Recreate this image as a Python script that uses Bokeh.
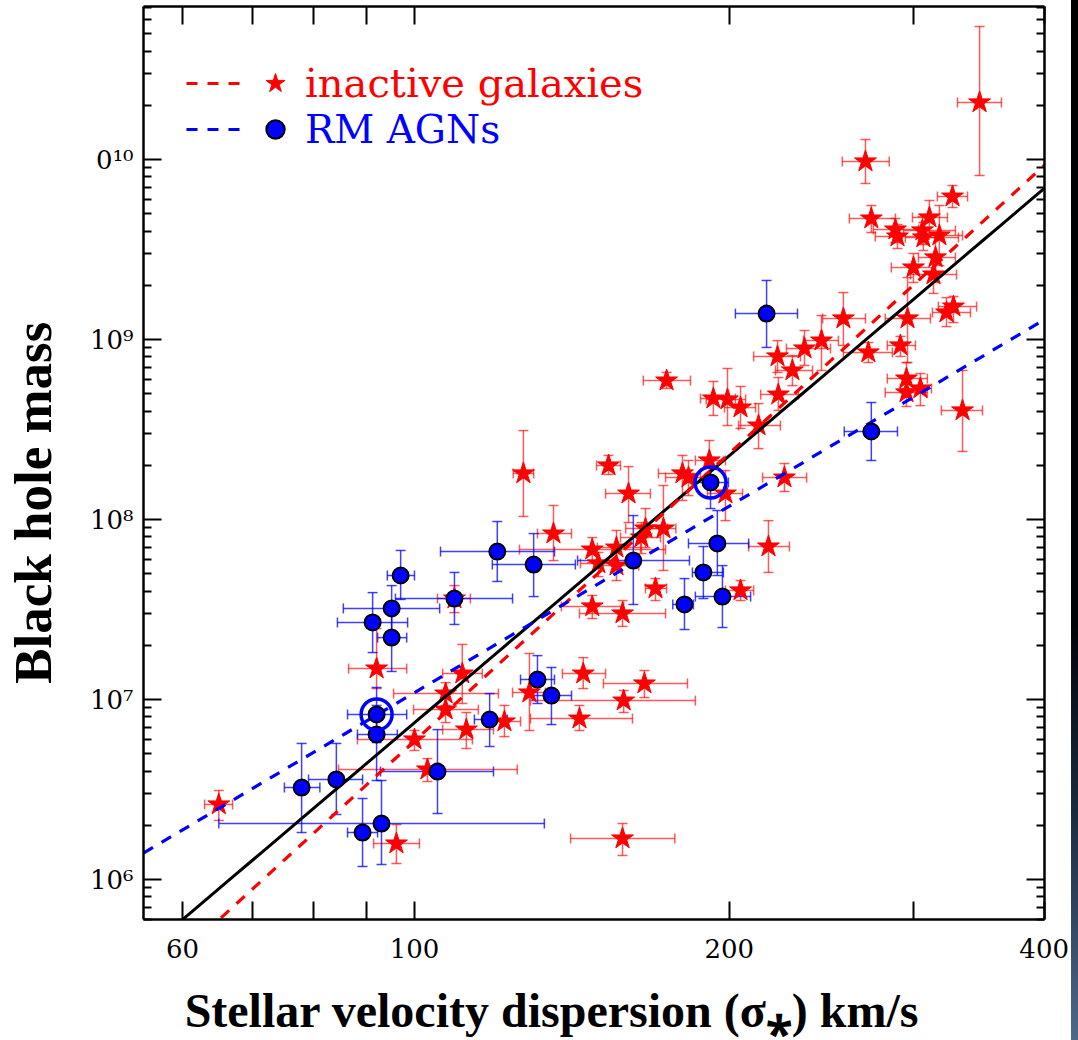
import numpy as np
from bokeh.plotting import figure
from bokeh.models import (ColumnDataSource, Range1d, FixedTicker, LogAxis, Whisker,
                          TeeHead, Legend, LegendItem, Div)
from bokeh.layouts import row
from bokeh.embed import file_html
from bokeh.resources import INLINE

# ---------------- data ----------------
# inactive galaxies (red stars): sigma [km/s] with error range, log10(M_BH) with error range
red_sigma = [347.0, 269.9, 326.9, 273.4, 288.3, 289.6, 310.7, 306.0, 306.6, 317.6,
             314.9, 300.0, 313.5, 322.6, 327.6, 296.1, 291.5, 295.4, 295.4, 304.6,
             334.2, 271.6, 257.1, 245.0, 236.0, 222.4, 229.8, 222.8, 199.2, 193.1,
             205.0, 213.3, 174.2, 225.8, 218.0, 205.0, 153.3, 160.2, 180.4, 182.8,
             191.4, 198.3, 127.1, 135.8, 173.0, 166.3, 164.8, 147.9, 156.0, 149.9,
             156.0, 170.0, 147.9, 158.1, 92.0, 111.1, 107.1, 107.1, 112.1, 100.0,
             102.9, 121.9, 128.8, 145.0, 165.9, 158.5, 143.8, 158.1, 96.1, 65.0,
             109.2]
red_sigma_lo = [330.5, 256.5, 316.2, 260.5, 274.6, 275.8, 299.3, 293.5, 294.7, 303.3,
                303.3, 285.7, 298.0, 312.8, 316.9, 281.9, 283.2, 283.2, 281.9, 291.5,
                319.0, 257.1, 245.6, 235.5, 226.8, 211.0, 221.4, 214.3, 190.1, 187.7,
                197.9, 204.1, 165.5, 215.2, 208.7, 198.3, 149.3, 152.3, 171.1, 173.8,
                185.6, 190.6, 124.3, 131.1, 165.5, 159.2, 157.4, 126.0, 149.6, 144.1,
                150.6, 166.3, 138.2, 143.8, 86.5, 106.4, 95.5, 99.8, 106.4, 88.2,
                84.6, 117.4, 124.1, 138.5, 151.6, 129.1, 129.1, 141.0, 91.4, 63.0,
                105.2]
red_sigma_hi = [364.1, 284.4, 337.9, 288.3, 303.3, 304.6, 323.3, 329.0, 331.2, 334.2,
                329.0, 314.9, 329.8, 340.1, 344.7, 311.4, 301.3, 309.3, 309.3, 312.1,
                349.2, 286.4, 269.9, 254.3, 249.9, 233.9, 240.2, 232.9, 207.3, 202.7,
                211.9, 223.8, 183.6, 237.1, 228.3, 211.0, 157.4, 168.1, 187.7, 189.7,
                198.3, 205.9, 130.0, 141.3, 177.8, 174.6, 171.9, 173.8, 164.5, 156.7,
                163.8, 174.2, 158.5, 173.8, 98.3, 116.1, 120.3, 115.1, 119.0, 113.6,
                125.4, 126.3, 133.4, 152.3, 182.4, 185.6, 161.6, 177.4, 101.1, 67.0,
                113.1]
red_logm = [10.317, 9.989, 9.794, 9.672, 9.611, 9.572, 9.678, 9.606, 9.567, 9.578,
            9.456, 9.400, 9.361, 9.150, 9.183, 9.117, 8.967, 8.783, 8.706, 8.728,
            8.606, 8.928, 9.117, 8.994, 8.950, 8.906, 8.828, 8.694, 8.667, 8.672,
            8.622, 8.522, 8.772, 8.233, 7.850, 7.606, 8.300, 8.144, 8.256, 8.233,
            8.328, 8.144, 8.256, 7.922, 7.950, 7.950, 7.900, 7.833, 7.844, 7.756,
            7.744, 7.617, 7.517, 7.478, 7.172, 7.144, 7.033, 6.944, 6.833, 6.778,
            6.611, 6.878, 7.039, 7.144, 7.089, 6.994, 6.894, 6.228, 6.200, 6.417,
            7.561]
red_logm_lo = [9.911, 9.867, 9.733, 9.594, 9.539, 9.506, 9.567, 9.528, 9.494, 9.411,
               9.317, 9.317, 9.256, 9.072, 9.094, 8.872, 8.906, 8.683, 8.628, 8.633,
               8.378, 8.872, 8.967, 8.828, 8.856, 8.817, 8.744, 8.606, 8.522, 8.578,
               8.506, 8.394, 8.728, 8.156, 7.706, 7.550, 8.250, 7.983, 8.106, 8.133,
               8.217, 7.994, 8.017, 7.772, 7.717, 7.844, 7.811, 7.761, 7.744, 7.683,
               7.661, 7.550, 7.450, 7.406, 7.061, 6.978, 6.967, 6.872, 6.728, 6.717,
               6.544, 6.794, 6.828, 7.061, 7.011, 6.928, 6.828, 6.133, 6.089, 6.328,
               7.483]
red_logm_hi = [10.739, 10.111, 9.856, 9.744, 9.672, 9.639, 9.772, 9.683, 9.650, 9.744,
               9.594, 9.478, 9.467, 9.233, 9.239, 9.344, 9.017, 8.872, 8.783, 8.811,
               8.828, 8.983, 9.261, 9.133, 9.050, 8.994, 8.911, 8.789, 8.839, 8.767,
               8.739, 8.644, 8.817, 8.311, 7.994, 7.661, 8.356, 8.294, 8.356, 8.328,
               8.439, 8.272, 8.494, 8.078, 8.189, 8.061, 7.983, 7.900, 7.939, 7.817,
               7.817, 7.672, 7.578, 7.550, 7.394, 7.306, 7.094, 7.050, 6.928, 6.828,
               6.672, 6.967, 7.256, 7.233, 7.161, 7.050, 6.967, 6.311, 6.306, 6.494,
               7.633]

# RM AGNs (blue circles)
blue_sigma = [217.1, 273.4, 191.9, 194.8, 188.9, 197.0, 181.2, 161.9, 120.0, 130.0,
              97.0, 109.2, 95.1, 91.2, 95.1, 92.0, 92.0, 118.0, 105.2, 131.1,
              135.2, 78.0, 84.2, 89.2, 93.0]
blue_sigma_lo = [202.7, 257.6, 184.8, 182.8, 184.4, 185.6, 176.6, 143.2, 105.9, 118.7,
                 94.2, 95.9, 85.5, 84.4, 92.2, 86.3, 88.2, 114.1, 92.8, 126.3,
                 129.7, 75.1, 79.2, 86.3, 65.0]
blue_sigma_hi = [232.4, 289.6, 199.6, 208.7, 197.4, 209.6, 184.8, 183.2, 136.1, 142.5,
                 100.0, 124.1, 105.7, 98.5, 98.3, 98.3, 96.3, 122.7, 119.0, 136.1,
                 141.3, 81.2, 89.2, 92.2, 133.1]
blue_logm = [9.144, 8.489, 8.206, 7.867, 7.706, 7.572, 7.528, 7.772, 7.822, 7.750,
             7.689, 7.561, 7.506, 7.428, 7.344, 6.917, 6.806, 6.889, 6.600, 7.111,
             7.022, 6.511, 6.556, 6.261, 6.311]
blue_logm_lo = [8.956, 8.328, 8.061, 7.689, 7.561, 7.400, 7.389, 7.528, 7.656, 7.572,
                7.556, 7.417, 7.372, 7.261, 7.156, 6.761, 6.550, 6.739, 6.367, 6.978,
                6.861, 6.261, 6.361, 6.072, 6.083]
blue_logm_hi = [9.328, 8.650, 8.344, 8.050, 7.850, 7.744, 7.672, 8.022, 7.989, 7.922,
                7.828, 7.706, 7.633, 7.594, 7.494, 7.067, 6.967, 7.033, 6.833, 7.244,
                7.178, 6.756, 6.756, 6.450, 6.550]
# AGNs highlighted with an open ring (indices into the blue arrays)
ring_index = [2, 15]

# fitted relations: log M = a + b * log10(sigma / 200)
fit_pivot = 200.0
fit_all = (8.355, 4.93)       # black solid
fit_inactive = (8.368, 5.31)  # red dashed
fit_agn = (8.074, 3.44)       # blue dashed

x_ticks = [60, 70, 80, 90, 100, 200, 300, 400]
x_tick_labels = {60: "60", 70: "", 80: "", 90: "", 100: "100", 200: "200", 300: "", 400: "400"}
y_ticks = [1e6, 1e7, 1e8, 1e9, 1e10]
y_tick_labels = {1e6: "10⁶", 1e7: "10⁷", 1e8: "10⁸", 1e9: "10⁹", 1e10: "0¹⁰"}
y_minor_ticks = [m * 10.0 ** e for e in range(5, 11) for m in range(2, 10)]

x_title = "Stellar velocity dispersion (σ⁎) km/s"
y_title = "Black hole mass"
legend_labels = ["inactive galaxies", "RM AGNs"]

# ---------------- plot ----------------
X0, X1 = 55.07, 400.3
Y0, Y1 = 10 ** 5.778, 10 ** 10.85

p = figure(width=1071, height=1040, x_axis_type="log", y_axis_type="log",
           x_range=Range1d(X0, X1), y_range=Range1d(Y0, Y1),
           output_backend="svg", toolbar_location=None,
           min_border_left=143, min_border_right=27, min_border_top=6, min_border_bottom=121,
           background_fill_color="white", border_fill_color="white")
p.xgrid.visible = False
p.ygrid.visible = False
p.outline_line_color = None

bottom_ax = p.below[0]
left_ax = p.left[0]


def style_axis(ax, ticker, overrides, show_labels, standoff):
    ax.ticker = ticker
    ax.axis_line_color = "black"
    ax.axis_line_width = 2.5
    ax.major_tick_line_color = "black"
    ax.major_tick_line_width = 2
    ax.minor_tick_line_color = "black"
    ax.minor_tick_line_width = 2
    ax.major_tick_in = 18
    ax.major_tick_out = 0
    ax.minor_tick_in = 8
    ax.minor_tick_out = 0
    ax.major_label_overrides = overrides
    ax.axis_label = None
    if show_labels:
        ax.major_label_text_font = "DejaVu Serif"
        ax.major_label_text_font_size = "26px"
        ax.major_label_text_color = "black"
        ax.major_label_standoff = standoff
    else:
        ax.major_label_text_font_size = "0px"
        ax.major_label_standoff = 0


style_axis(bottom_ax, FixedTicker(ticks=x_ticks, minor_ticks=[]), x_tick_labels, True, 19)
style_axis(left_ax, FixedTicker(ticks=y_ticks, minor_ticks=y_minor_ticks), y_tick_labels, True, 10)
top_ax = LogAxis()
right_ax = LogAxis()
style_axis(top_ax, FixedTicker(ticks=x_ticks, minor_ticks=[]), {t: "" for t in x_ticks}, False, 0)
style_axis(right_ax, FixedTicker(ticks=y_ticks, minor_ticks=y_minor_ticks), {t: "" for t in y_ticks}, False, 0)
p.add_layout(top_ax, "above")
p.add_layout(right_ax, "right")

# axis titles (trailing no-break spaces shift the centred titles as in the original)
bottom_ax.axis_label = x_title + "\u00a0" * 7
bottom_ax.axis_label_text_font = "Liberation Serif"
bottom_ax.axis_label_text_font_style = "bold"
bottom_ax.axis_label_text_font_size = "48px"
bottom_ax.axis_label_text_color = "black"
bottom_ax.axis_label_standoff = 23
left_ax.axis_label = y_title + "\u00a0" * 6
left_ax.axis_label_text_font = "Liberation Serif"
left_ax.axis_label_text_font_style = "bold"
left_ax.axis_label_text_font_size = "53px"
left_ax.axis_label_text_color = "black"
left_ax.axis_label_standoff = 25

rsrc = ColumnDataSource(dict(
    x=red_sigma, xlo=red_sigma_lo, xhi=red_sigma_hi,
    y=10 ** np.array(red_logm), ylo=10 ** np.array(red_logm_lo), yhi=10 ** np.array(red_logm_hi)))
bsrc = ColumnDataSource(dict(
    x=blue_sigma, xlo=blue_sigma_lo, xhi=blue_sigma_hi,
    y=10 ** np.array(blue_logm), ylo=10 ** np.array(blue_logm_lo), yhi=10 ** np.array(blue_logm_hi)))
ringsrc = ColumnDataSource(dict(
    x=[blue_sigma[i] for i in ring_index],
    y=[10 ** blue_logm[i] for i in ring_index]))


def add_err(src, color, alpha):
    for base, lo, hi, dim in (("x", "ylo", "yhi", "height"), ("y", "xlo", "xhi", "width")):
        head = dict(size=10, line_color=color, line_alpha=alpha, line_width=1.5)
        w = Whisker(source=src, base=base, lower=lo, upper=hi, dimension=dim,
                    line_color=color, line_alpha=alpha, line_width=1.5,
                    lower_head=TeeHead(**head), upper_head=TeeHead(**head))
        p.add_layout(w)


add_err(rsrc, "#ff0000", 0.65)
add_err(bsrc, "#0000ff", 0.75)

star_r = p.scatter("x", "y", source=rsrc, marker="star", size=23,
                   fill_color="#ff0000", line_color="#ff0000", line_width=1)

xs = np.geomspace(X0, X1, 60)


def fit_y(fit):
    a, b = fit
    return 10 ** (a + b * np.log10(xs / fit_pivot))


p.line(xs, fit_y(fit_all), line_color="black", line_width=3)
red_fit_r = p.line(xs, fit_y(fit_inactive), line_color="#ff0000", line_width=3.2, line_dash="11 10")
blue_fit_r = p.line(xs, fit_y(fit_agn), line_color="#0000ff", line_width=3.2, line_dash="11 10")

circ_r = p.scatter("x", "y", source=bsrc, marker="circle", size=16,
                   fill_color="#0000ff", line_color="black", line_width=2)
p.scatter("x", "y", source=ringsrc, marker="circle", size=31,
          fill_color=None, line_color="#0000ff", line_width=3.5)

# ---------------- legend ----------------
common = dict(padding=0, margin=0, spacing=0, background_fill_alpha=0, border_line_alpha=0)
leg_lines = Legend(items=[LegendItem(label=" ", renderers=[red_fit_r]),
                          LegendItem(label=" ", renderers=[blue_fit_r])],
                   location=(43, 767), glyph_width=54, glyph_height=46,
                   label_text_font_size="1px", label_standoff=0, label_width=0, label_height=1,
                   **common)
leg_red = Legend(items=[LegendItem(label=legend_labels[0], renderers=[star_r])],
                 location=(107, 811), glyph_width=50, glyph_height=50, label_standoff=5,
                 label_text_font="DejaVu Serif", label_text_font_size="40px",
                 label_text_color="#ff0000", **common)
leg_blue = Legend(items=[LegendItem(label=legend_labels[1], renderers=[circ_r])],
                  location=(109, 767), glyph_width=46, glyph_height=46, label_standoff=7,
                  label_text_font="DejaVu Serif", label_text_font_size="39px",
                  label_text_color="#0000ff", **common)
for lg in (leg_lines, leg_red, leg_blue):
    p.add_layout(lg)

edge = Div(width=7, height=1040, margin=0,
           styles={"background": "linear-gradient(to bottom, #000000 0%, #02030a 60%, #1c2a3e 78%, #4f6889 100%)"})

layout = row(p, edge, spacing=0)
open("out.html", "w").write(file_html(layout, INLINE))
